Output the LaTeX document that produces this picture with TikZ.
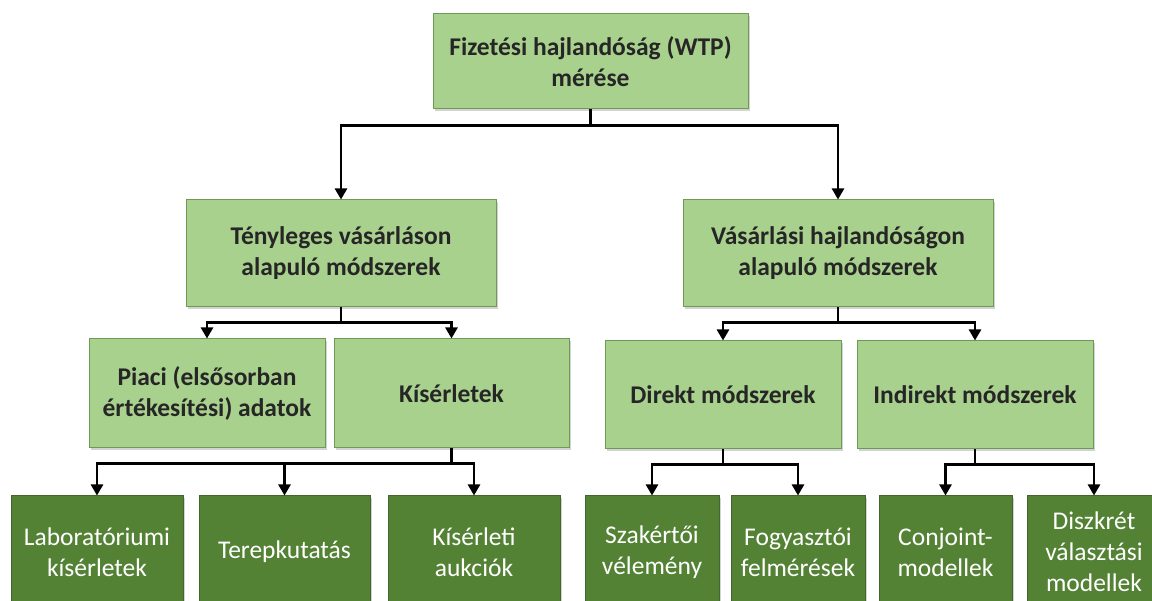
\documentclass[tikz,border=0pt]{standalone}
\usepackage{fontspec}
\setmainfont{Carlito}
\usetikzlibrary{arrows.meta,shadows}
\definecolor{lightgreen}{HTML}{A9D18E}
\definecolor{lightedge}{HTML}{6F9A56}
\definecolor{darkgreen}{HTML}{548235}
\definecolor{darkedge}{HTML}{41672B}
\definecolor{boxtext}{HTML}{262626}

\tikzset{
  upperbox/.style={draw=lightedge, fill=lightgreen, text=boxtext, line width=1pt,
    font=\fontsize{25.5}{31}\selectfont\bfseries, align=center,
    drop shadow={opacity=0.35, shadow xshift=2pt, shadow yshift=-2pt}},
  lowerbox/.style={draw=darkedge, fill=darkgreen, text=white, line width=1pt,
    font=\fontsize{25.5}{31}\selectfont, align=center, minimum height=112pt,
    drop shadow={opacity=0.35, shadow xshift=2pt, shadow yshift=-2pt}},
  conn/.style={-{Triangle[width=12pt,length=11pt]}, line width=2.5pt}
}

\begin{document}
\begin{tikzpicture}[x=1pt, y=-1pt]
  \useasboundingbox (0,0) rectangle (1152,601);

  % top
  \node[upperbox, minimum width=315pt, minimum height=95pt] (top) at (590.5,61.5)
    {Fizetési hajlandóság (WTP)\\mérése};

  % second row
  \node[upperbox, minimum width=310pt, minimum height=107pt] (tenyl) at (341,253.5)
    {Tényleges vásárláson\\alapuló módszerek};
  \node[upperbox, minimum width=310pt, minimum height=107pt] (vasarl) at (838,253.5)
    {Vásárlási hajlandóságon\\alapuló módszerek};

  % third row
  \node[upperbox, minimum width=236pt, minimum height=109pt] (piaci) at (207,393.5)
    {Piaci (elsősorban\\értékesítési) adatok};
  \node[upperbox, minimum width=235pt, minimum height=109pt] (kiserl) at (451.5,393.5)
    {Kísérletek};
  \node[upperbox, minimum width=236pt, minimum height=108pt] (direkt) at (723,395)
    {Direkt módszerek};
  \node[upperbox, minimum width=236pt, minimum height=108pt] (indirekt) at (975,395)
    {Indirekt módszerek};

  % bottom row
  \node[lowerbox, minimum width=172pt] (labor) at (97,552) {Laboratóriumi\\kísérletek};
  \node[lowerbox, minimum width=171pt] (terep) at (284.5,552) {Terepkutatás};
  \node[lowerbox, minimum width=172pt] (aukcio) at (474,552) {Kísérleti\\aukciók};
  \node[lowerbox, minimum width=134pt] (szakert) at (652,552) {Szakértői\\vélemény};
  \node[lowerbox, minimum width=134pt] (fogyaszt) at (798,552) {Fogyasztói\\felmérések};
  \node[lowerbox, minimum width=133pt] (conjoint) at (945.5,552) {Conjoint-\\modellek};
  \node[lowerbox, minimum width=134pt] (diszkret) at (1094,552) {Diszkrét\\választási\\modellek};

  % connectors
  \draw[conn] (top.south) -- ++(0,16) -| (tenyl.north);
  \draw[conn] (top.south) -- ++(0,16) -| (vasarl.north);
  \draw[conn] (tenyl.south) -- ++(0,15) -| (piaci.north);
  \draw[conn] (tenyl.south) -- ++(0,15) -| (kiserl.north);
  \draw[conn] (vasarl.south) -- ++(0,15) -| (direkt.north);
  \draw[conn] (vasarl.south) -- ++(0,15) -| (indirekt.north);
  \draw[conn] (kiserl.south) -- ++(0,15) -| (labor.north);
  \draw[conn] (kiserl.south) -- ++(0,15) -| (terep.north);
  \draw[conn] (kiserl.south) -- ++(0,15) -| (aukcio.north);
  \draw[conn] (direkt.south) -- ++(0,15) -| (szakert.north);
  \draw[conn] (direkt.south) -- ++(0,15) -| (fogyaszt.north);
  \draw[conn] (indirekt.south) -- ++(0,15) -| (conjoint.north);
  \draw[conn] (indirekt.south) -- ++(0,15) -| (diszkret.north);
\end{tikzpicture}
\end{document}
